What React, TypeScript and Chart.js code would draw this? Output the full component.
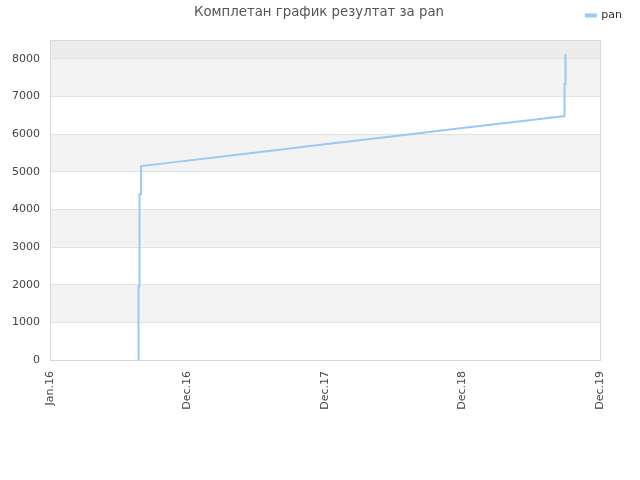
import { useEffect, useRef } from "react";
import { Chart, registerables } from "chart.js";

Chart.register(...registerables);

const titleText = "Комплетан график резултат за pan";
const seriesName = "pan";
const xTickLabels = ["Jan.16", "Dec.16", "Dec.17", "Dec.18", "Dec.19"];
const yTicks = [0, 1000, 2000, 3000, 4000, 5000, 6000, 7000, 8000];

// x in "tick units" (0 = Jan.16, 1 = Dec.16, ...), y = result
const panX = [
  0.644, 0.644, 0.651, 0.651, 0.662, 0.662, 1.0, 1.5, 2.0, 2.5, 3.0, 3.5,
  3.742, 3.742, 3.749, 3.749,
];
const panY = [
  0, 1950, 1950, 4400, 4400, 5150, 5296, 5512, 5728, 5944, 6160, 6376,
  6480, 7330, 7330, 8130,
];

const lineColor = "#99c9f5";
const fontFamily = "'DejaVu Sans', sans-serif";

const bandsPlugin = {
  id: "bands",
  beforeDraw(chart: any) {
    const { ctx, chartArea, scales } = chart;
    const y = scales.y;
    ctx.save();
    for (let v = 0; v < y.max; v += 1000) {
      const top = y.getPixelForValue(Math.min(v + 1000, y.max));
      const bottom = y.getPixelForValue(v);
      let fill = "";
      if (v >= 8000) fill = "#ececec";
      else if ((v / 1000) % 2 === 1) fill = "#f3f3f3";
      if (fill) {
        ctx.fillStyle = fill;
        ctx.fillRect(chartArea.left, top, chartArea.right - chartArea.left, bottom - top);
      }
    }
    ctx.restore();
  },
  afterDraw(chart: any) {
    const { ctx, chartArea } = chart;
    ctx.save();
    ctx.strokeStyle = "#d8d8d8";
    ctx.lineWidth = 1;
    ctx.strokeRect(
      Math.round(chartArea.left) + 0.5,
      Math.round(chartArea.top) + 0.5,
      Math.round(chartArea.right - chartArea.left),
      Math.round(chartArea.bottom - chartArea.top)
    );
    // title sits on the same row as the legend
    ctx.fillStyle = "#555555";
    ctx.font = "13.3px " + fontFamily;
    ctx.textAlign = "center";
    ctx.textBaseline = "middle";
    ctx.fillText(titleText, 319, 13);
    ctx.restore();
  },
};

export default function App() {
  const chartRef = useRef<HTMLCanvasElement>(null);
  const chartInstance = useRef<Chart | null>(null);

  useEffect(() => {
    document.body.style.margin = "0";
    if (!chartRef.current) return;
    if (chartInstance.current) chartInstance.current.destroy();
    const ctx = chartRef.current.getContext("2d");
    if (!ctx) return;

    chartInstance.current = new Chart(ctx, {
      type: "line",
      data: {
        datasets: [
          {
            label: seriesName,
            data: panX.map((x, i) => ({ x, y: panY[i] })),
            borderColor: lineColor,
            backgroundColor: lineColor,
            borderWidth: 2,
            pointRadius: 0,
            tension: 0,
            fill: false,
          },
        ],
      },
      options: {
        responsive: false,
        animation: false,
        layout: { padding: { top: 0, right: 8, left: 0, bottom: 0 } },
        plugins: {
          title: { display: false },
          tooltip: { enabled: false },
          legend: {
            display: true,
            position: "top",
            align: "end",
            labels: {
              boxWidth: 10,
              boxHeight: 2,
              color: "#333",
              font: { family: fontFamily, size: 11 },
              padding: 10,
            },
          },
        },
        scales: {
          x: {
            type: "linear",
            min: 0,
            max: 4,
            grid: { display: false, drawTicks: false },
            border: { display: false },
            afterFit: (scale: any) => {
              scale.height = 120;
            },
            afterBuildTicks: (scale: any) => {
              scale.ticks = xTickLabels.map((_, i) => ({ value: i }));
            },
            ticks: {
              autoSkip: false,
              maxRotation: 90,
              minRotation: 90,
              padding: 11,
              color: "#444",
              font: { family: fontFamily, size: 11 },
              callback: (v: any) => xTickLabels[Number(v)] ?? "",
            },
          },
          // spacer axes to place the plot box
          xTop: {
            type: "linear",
            position: "top",
            grid: { display: false, drawTicks: false },
            border: { display: false },
            ticks: { display: false },
            afterFit: (scale: any) => {
              scale.height = 9;
            },
          },
          y: {
            min: 0,
            max: 8500,
            grid: { color: "#e2e2e2", drawTicks: false },
            border: { display: false },
            afterFit: (scale: any) => {
              scale.width = 50;
            },
            afterBuildTicks: (scale: any) => {
              scale.ticks = yTicks.map((v) => ({ value: v }));
            },
            ticks: {
              padding: 10,
              color: "#444",
              font: { family: fontFamily, size: 11 },
              callback: (v: any) => String(v),
            },
          },
          yRight: {
            type: "linear",
            position: "right",
            grid: { display: false, drawTicks: false },
            border: { display: false },
            ticks: { display: false },
            afterFit: (scale: any) => {
              scale.width = 32;
            },
          },
        },
      },
      plugins: [bandsPlugin],
    });

    return () => {
      if (chartInstance.current) {
        chartInstance.current.destroy();
        chartInstance.current = null;
      }
    };
  }, []);

  return (
    <div style={{ width: 640, height: 480 }}>
      <canvas ref={chartRef} width={640} height={480} />
    </div>
  );
}
